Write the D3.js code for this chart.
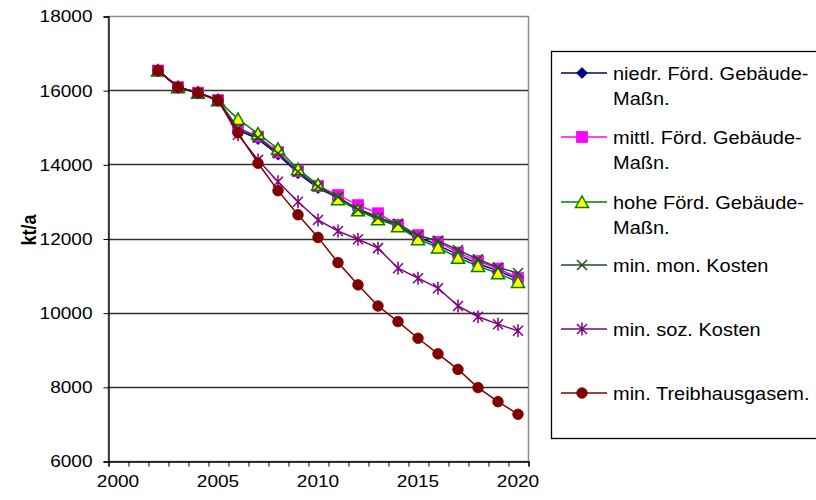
<!DOCTYPE html>
<html>
<head>
<meta charset="utf-8">
<script src="https://cdn.jsdelivr.net/npm/d3@7"></script>
<style>
  html, body { margin: 0; padding: 0; background: #fff; }
  svg { display: block; font-family: "Liberation Sans", Arial, sans-serif; }
</style>
</head>
<body>
<svg id="chart" width="816" height="500"></svg>
<script>
// Years on the category axis
const years = [2002, 2003, 2004, 2005, 2006, 2007, 2008, 2009, 2010, 2011,
               2012, 2013, 2014, 2015, 2016, 2017, 2018, 2019, 2020];

// Emissions per scenario, kt/a
const niedrig = [16530, 16080, 15930, 15730, 14930, 14680, 14260, 13760, 13360, 13100,
                 12800, 12580, 12340, 12040, 11820, 11560, 11320, 11130, 10900];
const mittel  = [16530, 16080, 15930, 15730, 14980, 14750, 14330, 13820, 13420, 13170,
                 12900, 12680, 12370, 12090, 11910, 11620, 11390, 11190, 10940];
const hoch    = [16530, 16080, 15930, 15730, 15220, 14830, 14420, 13870, 13450, 13060,
                 12760, 12520, 12330, 11980, 11760, 11480, 11260, 11060, 10830];
const monKosten = [16530, 16080, 15930, 15730, 14960, 14720, 14300, 13800, 13400, 13120,
                   12780, 12560, 12400, 12080, 11940, 11690, 11440, 11220, 11070];
const sozKosten = [16530, 16080, 15930, 15730, 14800, 14120, 13530, 12990, 12500, 12200,
                   11980, 11740, 11200, 10930, 10660, 10180, 9890, 9690, 9510];
const treibhaus = [16530, 16080, 15930, 15730, 14850, 14030, 13290, 12640, 12030, 11350,
                   10750, 10180, 9760, 9310, 8890, 8470, 7980, 7600, 7260];

const seriesNames = [
  ["niedr. Förd. Gebäude-", "Maßn."],
  ["mittl. Förd. Gebäude-", "Maßn."],
  ["hohe Förd. Gebäude-", "Maßn."],
  ["min. mon. Kosten"],
  ["min. soz. Kosten"],
  ["min. Treibhausgasem."]
];

// Axis ticks
const yTicks = [6000, 8000, 10000, 12000, 14000, 16000, 18000];
const xLabels = [2000, 2005, 2010, 2015, 2020];

// Styling per series
const styles = [
  { color: "#000080", marker: "diamond", fill: "#000080" },
  { color: "#ff00ff", marker: "square",  fill: "#ff00ff" },
  { color: "#008000", marker: "triangle", fill: "#ffff00" },
  { color: "#1e4d1e", marker: "x",       fill: "none" },
  { color: "#800080", marker: "star",    fill: "none" },
  { color: "#800000", marker: "circle",  fill: "#800000" }
];
const seriesValues = [niedrig, mittel, hoch, monKosten, sozKosten, treibhaus];

const svg = d3.select("#chart");
const plot = { left: 108, right: 528, top: 16, bottom: 461 };

const x = d3.scaleLinear().domain([1999.5, 2020.5]).range([plot.left, plot.right]);
const y = d3.scaleLinear().domain([6000, 18000]).range([plot.bottom, plot.top]);

const stretch = 1.12;

// Plot frame (grey) and grid lines
svg.append("rect")
  .attr("x", plot.left + 0.5).attr("y", plot.top + 0.5)
  .attr("width", plot.right - plot.left).attr("height", plot.bottom - plot.top)
  .attr("fill", "none").attr("stroke", "#8c8c8c").attr("stroke-width", 1.5);

svg.append("g").selectAll("line")
  .data(yTicks.filter(v => v > 6000 && v < 18000))
  .join("line")
  .attr("x1", plot.left).attr("x2", plot.right)
  .attr("y1", d => Math.round(y(d)) + 0.5).attr("y2", d => Math.round(y(d)) + 0.5)
  .attr("stroke", "#333").attr("stroke-width", 1.3);

// Y axis
const yAxis = svg.append("g")
  .attr("transform", `translate(${plot.left + 0.5},0.5)`)
  .call(d3.axisLeft(y).tickValues(yTicks).tickSize(5).tickPadding(11).tickFormat(d3.format("d")));
yAxis.select(".domain").attr("stroke", "#000").attr("stroke-width", 1.3);
yAxis.selectAll(".tick line").attr("stroke", "#000");
yAxis.selectAll(".tick text")
  .attr("font-size", 17).attr("fill", "#000")
  .attr("font-family", "Liberation Sans, Arial, sans-serif")
  .attr("transform", function () {
    const tx = +this.getAttribute("x");
    return `translate(${tx},0) scale(${stretch},1)`;
  })
  .attr("x", 0);

// X axis: tick marks between years, labels every five years
const xTickMarks = d3.range(1999.5, 2021, 1);
const xAxis = svg.append("g")
  .attr("transform", `translate(0.5,${plot.bottom + 0.5})`)
  .call(d3.axisBottom(x).tickValues(xTickMarks).tickSize(5).tickFormat(""));
xAxis.select(".domain").attr("stroke", "#000").attr("stroke-width", 1.3);
xAxis.selectAll(".tick line").attr("stroke", "#000");

const xLab = svg.append("g")
  .attr("transform", `translate(0,${plot.bottom})`)
  .call(d3.axisBottom(x).tickValues(xLabels).tickSize(0).tickPadding(14).tickFormat(d3.format("d")));
xLab.select(".domain").remove();
xLab.selectAll(".tick text")
  .attr("font-size", 17).attr("fill", "#000")
  .attr("font-family", "Liberation Sans, Arial, sans-serif")
  .attr("transform", `scale(${stretch},1)`)
  .attr("x", 0);
xLab.selectAll(".tick").attr("transform", function (d) { return `translate(${x(d)},0)`; });

// Y axis title
svg.append("text")
  .attr("transform", `translate(36,230) rotate(-90) scale(1,${stretch})`)
  .attr("text-anchor", "middle")
  .attr("font-size", 18).attr("font-weight", "bold")
  .text("kt/a");

// Marker shapes
function markerPath(type) {
  switch (type) {
    case "diamond": return "M0,-5.5L5.5,0L0,5.5L-5.5,0Z";
    case "square": return "M-5.5,-5.5H5.5V5.5H-5.5Z";
    case "triangle": return "M0,-6L6.5,5.5H-6.5Z";
    case "x": return "M-5,-5L5,5M-5,5L5,-5";
    case "star": return "M-5,-5L5,5M-5,5L5,-5M0,-6.5V6.5";
    default: return null;
  }
}

function drawMarker(g, type, st) {
  if (type === "circle") {
    g.append("circle").attr("r", 5.3).attr("fill", st.fill).attr("stroke", st.color).attr("stroke-width", 0.8);
  } else if (type === "x" || type === "star") {
    g.append("path").attr("d", markerPath(type)).attr("fill", "none")
      .attr("stroke", st.color).attr("stroke-width", 1.5);
  } else {
    g.append("path").attr("d", markerPath(type)).attr("fill", st.fill)
      .attr("stroke", st.color).attr("stroke-width", type === "triangle" ? 1.5 : 0.8);
  }
}

const line = d3.line().x((d, i) => x(years[i])).y(d => y(d));

seriesValues.forEach((vals, si) => {
  const st = styles[si];
  const g = svg.append("g");
  g.append("path").datum(vals).attr("d", line)
    .attr("fill", "none").attr("stroke", st.color).attr("stroke-width", 1.5);
  vals.forEach((v, i) => {
    const m = g.append("g").attr("transform", `translate(${x(years[i])},${y(v)})`);
    drawMarker(m, st.marker, st);
  });
});

// Legend
const legend = svg.append("g");
legend.append("rect")
  .attr("x", 551.5).attr("y", 51.5).attr("width", 270).attr("height", 387)
  .attr("fill", "#fff").attr("stroke", "#000").attr("stroke-width", 1.3);

const legendRows = [73, 137, 202, 265, 329, 393];
seriesNames.forEach((lines, si) => {
  const st = styles[si];
  const ly = legendRows[si];
  const g = legend.append("g");
  g.append("line").attr("x1", 561).attr("x2", 607).attr("y1", ly).attr("y2", ly)
    .attr("stroke", st.color).attr("stroke-width", 1.5);
  const m = g.append("g").attr("transform", `translate(582,${ly})`);
  drawMarker(m, st.marker, st);
  lines.forEach((t, li) => {
    g.append("text")
      .attr("transform", `translate(613,${ly + 6.5 + li * 25}) scale(1.08,1)`)
      .attr("font-size", 18.5).attr("fill", "#000")
      .text(t);
  });
});
</script>
</body>
</html>
